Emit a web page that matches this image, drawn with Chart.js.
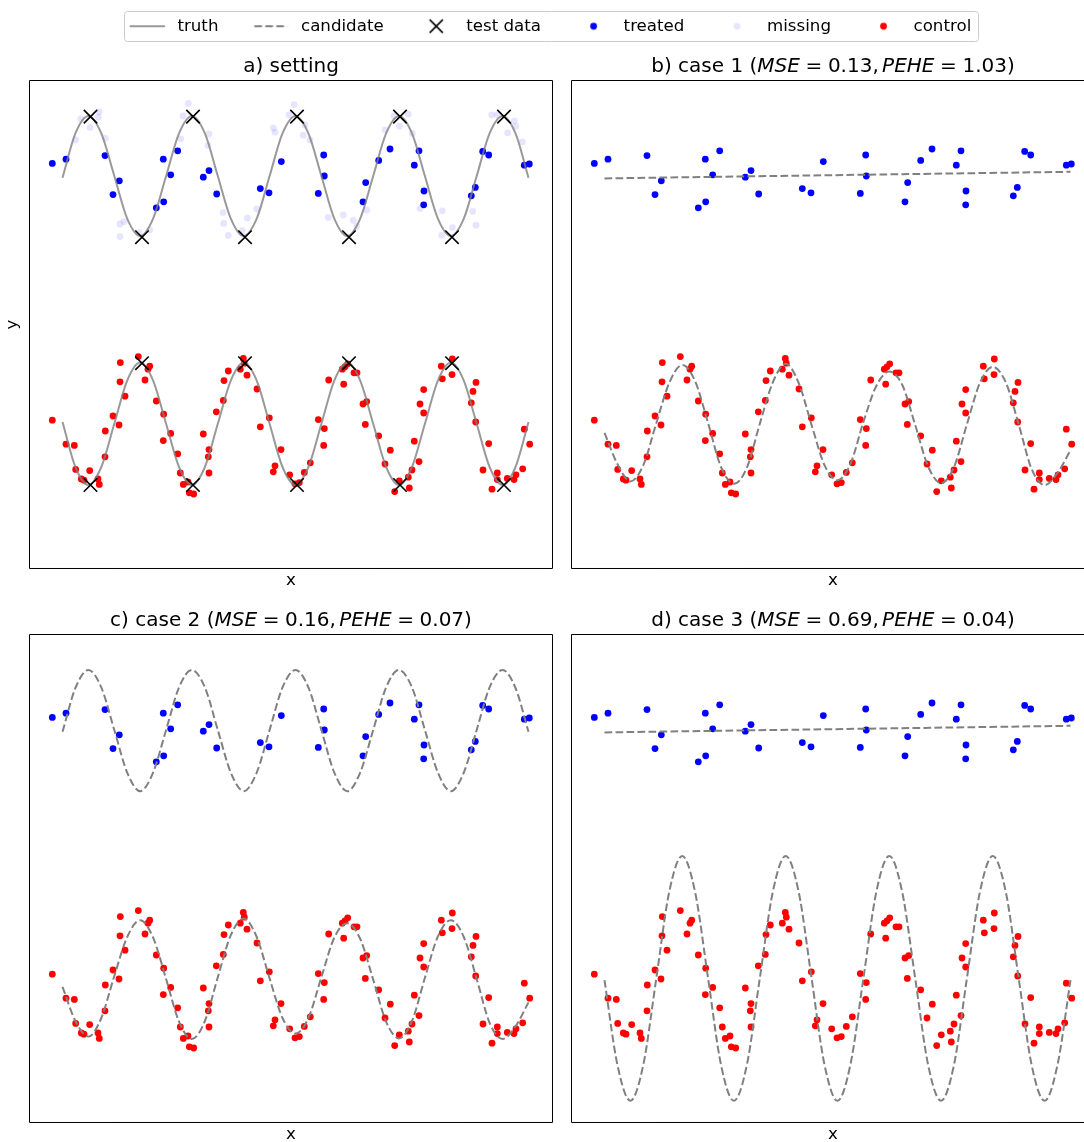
<!DOCTYPE html>
<html><head><meta charset="utf-8">
<script src="https://cdn.jsdelivr.net/npm/chart.js@4.4.0/dist/chart.umd.min.js"></script>
<style>
html,body{margin:0;padding:0;background:#fff;overflow:hidden;}
#page{position:relative;width:1084px;height:1142px;overflow:hidden;background:#fff;}
.box{position:absolute;}
canvas{display:block;}
</style></head><body>
<div id="page">
<div class="box" style="left:0px;top:40px;width:560px;height:560px;"><canvas id="pa" width="560" height="560"></canvas></div>
<div class="box" style="left:542px;top:40px;width:542px;height:560px;overflow:hidden;"><canvas id="pb" width="600" height="560"></canvas></div>
<div class="box" style="left:0px;top:594px;width:560px;height:560px;"><canvas id="pc" width="560" height="560"></canvas></div>
<div class="box" style="left:542px;top:594px;width:542px;height:560px;overflow:hidden;"><canvas id="pd" width="600" height="560"></canvas></div>
<div class="box" style="left:18px;top:-18px;width:1066px;height:200px;pointer-events:none;"><canvas id="legend" width="1066" height="200"></canvas></div>
</div>
<script>
// ---------------- data ----------------
const legendLabels = ['truth', 'candidate', 'test data', 'treated', 'missing', 'control'];
const panelNames = ['a) setting', 'b) case 1', 'c) case 2', 'd) case 3'];
const caseMSE = ['0.13', '0.16', '0.69'];
const casePEHE = ['1.03', '0.07', '0.04'];

const treatedX = [-1.17, 0.20, 4.10, 5.53, 4.90, 9.93, 11.37, 10.67, 9.23, 9.97, 14.50, 13.93, 15.27, 19.63, 20.50, 21.73, 25.97, 26.03, 25.43, 30.17, 29.90, 31.47, 32.60, 35.50, 35.03, 36.00, 35.97, 41.13, 40.73, 41.87, 42.47, 46.03, 46.53];
const treatedY = [2.21, 2.28, 2.34, 1.92, 1.69, 2.28, 2.42, 2.02, 1.47, 1.57, 2.09, 1.98, 1.70, 1.79, 1.72, 2.24, 2.35, 2.00, 1.71, 1.89, 1.57, 2.26, 2.45, 2.42, 2.18, 1.75, 1.52, 1.81, 1.67, 2.41, 2.35, 2.18, 2.20];

const missingX = [1.67, 3.53, 3.43, 2.60, 1.17, 4.13, 5.60, 6.00, 5.60, 7.50, 8.57, 12.43, 11.90, 11.67, 14.50, 14.40, 15.90, 15.97, 16.43, 17.83, 18.33, 19.27, 20.93, 21.10, 22.50, 23.00, 23.93, 24.60, 24.10, 26.43, 27.93, 28.93, 29.27, 30.27, 32.10, 33.00, 33.53, 34.43, 34.83, 35.60, 37.83, 38.83, 37.77, 40.87, 41.20, 42.77, 43.33, 44.37, 45.03, 45.20, 45.83];
const missingY = [2.95, 3.07, 2.98, 2.81, 2.60, 2.63, 1.20, 1.24, 0.99, 1.06, 1.10, 3.21, 3.00, 2.62, 2.70, 2.51, 1.39, 1.21, 1.01, 1.09, 1.30, 1.45, 2.80, 2.73, 3.02, 3.19, 2.68, 2.60, 2.85, 1.31, 1.35, 1.26, 1.16, 1.43, 2.77, 3.00, 2.83, 3.03, 2.71, 1.46, 1.42, 1.14, 1.01, 1.41, 1.18, 3.02, 3.02, 2.72, 2.92, 2.83, 2.57];

const controlX = [-1.17, 0.20, 1.03, 1.17, 1.73, 2.00, 2.57, 3.40, 3.53, 4.10, 4.13, 4.90, 5.50, 6.10, 5.60, 5.63, 7.43, 8.57, 8.40, 8.10, 9.23, 9.97, 10.67, 9.93, 11.37, 11.63, 11.93, 12.40, 12.53, 12.97, 13.93, 14.50, 14.43, 14.50,
  15.23, 15.93, 16.00, 16.43, 17.63, 17.93, 18.03, 18.30, 19.30, 20.53, 19.63, 21.70, 21.10, 20.93, 22.57, 23.10, 23.53, 24.03, 24.63, 25.97, 26.03, 25.43, 26.47, 27.97, 27.83, 28.10, 28.37, 29.00, 29.30, 29.90, 30.27, 30.13, 31.47, 32.10,
  32.63, 33.07, 33.53, 34.43, 34.53, 34.80, 35.50, 35.03, 35.97, 35.60, 35.97, 37.73, 37.83, 38.83, 38.80, 41.20, 40.90, 40.73, 41.17, 42.47, 41.90, 42.80, 43.33, 43.33, 44.33, 45.00, 45.20, 45.87, 46.03, 46.57];
const controlY = [-2.07, -2.47, -2.49, -2.89, -3.05, -3.07, -2.91, -3.05, -3.14, -2.68, -2.25, -2.00, -2.15, -1.67, -1.43, -1.11, -1.01, -1.17, -1.22, -1.40, -1.75, -1.97, -2.29, -2.41, -2.63, -2.95, -3.14, -3.10, -3.28, -3.30, -2.30, -2.56, -2.68, -2.95,
  -1.93, -1.74, -1.41, -1.25, -1.22, -1.04, -1.12, -1.32, -1.55, -2.03, -2.18, -2.56, -2.83, -2.93, -2.98, -3.13, -3.11, -2.94, -2.78, -2.49, -2.21, -2.06, -1.40, -1.47, -1.22, -1.18, -1.13, -1.28, -1.28, -1.80, -1.76, -2.14, -2.33, -2.80,
  -2.57, -3.26, -3.08, -3.02, -3.20, -2.90, -2.76, -2.42, -1.95, -1.80, -1.56, -1.17, -1.38, -1.05, -1.31, -1.44, -1.59, -1.78, -2.10, -2.46, -2.90, -3.22, -2.95, -3.06, -3.04, -3.06, -2.98, -2.88, -2.22, -2.47];

const testX = [2.65, 12.9, 23.3, 33.6, 44.0, 7.8, 18.1, 28.5, 38.8, 7.8, 18.1, 28.5, 38.8, 2.65, 12.9, 23.3, 33.6, 44.0];
const testY = [2.99, 2.99, 2.99, 2.99, 2.99, 0.98, 0.98, 0.98, 0.98, -1.12, -1.12, -1.12, -1.12, -3.15, -3.15, -3.15, -3.15, -3.15];

const curveX = [-0.15, 1.14, 2.44, 3.73, 5.03, 6.32, 7.62, 8.91, 10.21, 11.50, 12.79, 14.09, 15.38, 16.68, 17.97, 19.27, 20.56, 21.85, 23.15, 24.44, 25.74, 27.03, 28.33, 29.62, 30.92, 32.21, 33.50, 34.80, 36.09, 37.39, 38.68, 39.98, 41.27, 42.56, 43.86, 45.15, 46.45];
const truthTreated = [1.97, 2.71, 3.00, 2.71, 2.00, 1.29, 1.00, 1.29, 2.00, 2.71, 3.00, 2.71, 2.00, 1.29, 1.00, 1.29, 2.00, 2.71, 3.00, 2.71, 2.00, 1.29, 1.00, 1.29, 2.00, 2.71, 3.00, 2.71, 2.00, 1.29, 1.00, 1.29, 2.00, 2.71, 3.00, 2.71, 1.97];
const truthControl = [-2.10, -2.85, -3.15, -2.85, -2.13, -1.41, -1.11, -1.41, -2.13, -2.85, -3.15, -2.85, -2.13, -1.41, -1.11, -1.41, -2.13, -2.85, -3.15, -2.85, -2.13, -1.41, -1.11, -1.41, -2.13, -2.85, -3.15, -2.85, -2.13, -1.41, -1.11, -1.41, -2.13, -2.85, -3.15, -2.85, -2.10];

const flatX = [-0.15, 46.45];
const case1CandTreated = [1.96, 2.07];
const case1CandControl = [-2.28, -2.80, -3.09, -2.82, -2.12, -1.45, -1.15, -1.42, -2.12, -2.85, -3.13, -2.86, -2.13, -1.44, -1.13, -1.45, -2.15, -2.82, -3.07, -2.80, -2.10, -1.50, -1.26, -1.48, -2.15, -2.84, -3.12, -2.85, -2.14, -1.45, -1.18, -1.44, -2.14, -2.88, -3.15, -2.95, -2.57];
const case2CandTreated = [1.97, 2.70, 3.00, 2.71, 2.00, 1.29, 0.98, 1.29, 2.00, 2.71, 3.00, 2.71, 2.00, 1.29, 0.98, 1.29, 2.00, 2.71, 3.00, 2.71, 2.00, 1.29, 0.98, 1.29, 2.00, 2.71, 3.00, 2.71, 2.00, 1.29, 0.98, 1.29, 2.00, 2.71, 3.00, 2.70, 1.97];
const case2CandControl = [-2.28, -2.85, -3.11, -2.80, -2.10, -1.45, -1.17, -1.46, -2.15, -2.86, -3.15, -2.85, -2.12, -1.42, -1.14, -1.45, -2.14, -2.80, -3.06, -2.80, -2.12, -1.46, -1.22, -1.48, -2.16, -2.86, -3.14, -2.85, -2.13, -1.44, -1.17, -1.45, -2.15, -2.88, -3.15, -2.94, -2.54];
const case3CandTreated = [1.96, 2.07];
const case3CandControl = [-2.17, -3.58, -4.18, -3.58, -2.14, -0.70, -0.10, -0.70, -2.14, -3.58, -4.18, -3.58, -2.14, -0.70, -0.10, -0.70, -2.14, -3.58, -4.18, -3.58, -2.14, -0.70, -0.10, -0.70, -2.14, -3.58, -4.18, -3.58, -2.14, -0.70, -0.10, -0.70, -2.14, -3.58, -4.18, -3.58, -2.17];

const xLimits = [-3.5, 48.9];
const yLimits = [-4.55, 3.6];

// ---------------- styles ----------------
const FAMILY = "'DejaVu Sans', 'Liberation Sans', sans-serif";
const FS = 16.67;
const TRUTH_COLOR = 'rgba(128,128,128,0.8)';
const CAND_COLOR = 'rgb(128,128,128)';
const DASH = [7.7, 3.3];
const BLUE = '#0000ff', RED = '#ff0000', MISSING = 'rgba(0,0,255,0.1)';
const DOT_R = 3.4;

Chart.defaults.font.family = FAMILY;
Chart.defaults.color = '#000';

function pts(xs, ys) { return xs.map((x, i) => ({x: x, y: ys[i]})); }

const framePlugin = {
  id: 'frame',
  afterDatasetsDraw(chart, args, opts) {
    const {ctx, chartArea: a} = chart;
    const l = a.left + 0.5, t = a.top + 0.5, r = a.right - 0.5, b = a.bottom - 0.5;
    ctx.save();
    ctx.strokeStyle = '#000';
    ctx.lineWidth = 1;
    ctx.beginPath();
    ctx.moveTo(r, t); ctx.lineTo(l, t); ctx.lineTo(l, b); ctx.lineTo(r, b);
    if (!opts.openRight) ctx.closePath();
    ctx.stroke();
    ctx.restore();
  }
};

const titlePlugin = {
  id: 'panelTitle',
  afterDraw(chart, args, opts) {
    const segs = opts.segments || [];
    const ctx = chart.ctx, a = chart.chartArea;
    const fN = "20px " + FAMILY, fI = "italic 20px " + FAMILY;
    ctx.save();
    let total = 0;
    segs.forEach(s => {
      if (s.g) { total += s.g; return; }
      ctx.font = s.i ? fI : fN;
      total += ctx.measureText(s.t).width;
    });
    let x = (a.left + a.right) / 2 - total / 2;
    const y = a.top - 8.3;
    ctx.fillStyle = '#000';
    ctx.textAlign = 'left';
    ctx.textBaseline = 'alphabetic';
    segs.forEach(s => {
      if (s.g) { x += s.g; return; }
      ctx.font = s.i ? fI : fN;
      ctx.fillText(s.t, x, y);
      x += ctx.measureText(s.t).width;
    });
    ctx.restore();
  }
};

function caseSegments(k) {
  return [
    {t: panelNames[k + 1] + ' ('}, {t: 'MSE', i: true}, {g: 5.6}, {t: '='}, {g: 5.6},
    {t: caseMSE[k] + ','}, {g: 3.3}, {t: 'PEHE', i: true}, {g: 5.6}, {t: '='}, {g: 5.6},
    {t: casePEHE[k] + ')'}
  ];
}

function scatterSet(label, xs, ys, color, order) {
  return {label, data: pts(xs, ys), backgroundColor: color, borderColor: color, pointRadius: DOT_R, pointBorderWidth: 0, pointHoverRadius: DOT_R, order};
}
function lineSet(label, xs, ys, color, dashed, order) {
  return {type: 'line', label, data: pts(xs, ys), borderColor: color, borderWidth: 2, borderDash: dashed ? DASH : [],
    pointRadius: 0, pointHoverRadius: 0, fill: false, cubicInterpolationMode: 'monotone', order};
}

function panel(id, segments, datasets, showY, padRight, openRight) {
  return new Chart(document.getElementById(id), {
    type: 'scatter',
    data: {datasets},
    options: {
      responsive: false, animation: false, events: [],
      layout: {padding: {left: showY ? 3 : 29, right: padRight, top: 40, bottom: 9}, autoPadding: false},
      scales: {
        x: {type: 'linear', min: xLimits[0], max: xLimits[1], display: true,
            grid: {display: false, drawTicks: false}, border: {display: false}, ticks: {display: false},
            title: {display: true, text: 'x', color: '#000', font: {size: FS, family: FAMILY}, padding: {top: 2, bottom: 0}}},
        y: {type: 'linear', min: yLimits[0], max: yLimits[1], display: showY,
            grid: {display: false, drawTicks: false}, border: {display: false}, ticks: {display: false},
            title: {display: showY, text: 'y', color: '#000', font: {size: FS, family: FAMILY}, padding: {top: 0, bottom: 6}}}
      },
      plugins: {legend: {display: false}, tooltip: {enabled: false}, panelTitle: {segments}, frame: {openRight}}
    },
    plugins: [framePlugin, titlePlugin]
  });
}

// panel a
panel('pa', [{t: panelNames[0]}], [
  {label: 'test data', data: pts(testX, testY), pointStyle: 'crossRot', pointRadius: 9.5, pointHoverRadius: 9.5,
   pointBorderWidth: 1.6, borderColor: '#000', backgroundColor: '#000', order: 0},
  lineSet('truth treated', curveX, truthTreated, TRUTH_COLOR, false, 2),
  lineSet('truth control', curveX, truthControl, TRUTH_COLOR, false, 2),
  scatterSet('control', controlX, controlY, RED, 3),
  scatterSet('missing', missingX, missingY, MISSING, 4),
  scatterSet('treated', treatedX, treatedY, BLUE, 5)
], true, 7, false);

function casePanel(id, k, candTX, candT, candC, padRight, openRight) {
  panel(id, caseSegments(k), [
    lineSet('candidate treated', candTX, candT, CAND_COLOR, true, 1),
    lineSet('candidate control', curveX, candC, CAND_COLOR, true, 1),
    scatterSet('control', controlX, controlY, RED, 3),
    scatterSet('treated', treatedX, treatedY, BLUE, 5)
  ], false, padRight, openRight);
}
casePanel('pb', 0, flatX, case1CandTreated, case1CandControl, 47, true);
casePanel('pc', 1, curveX, case2CandTreated, case2CandControl, 7, false);
casePanel('pd', 2, flatX, case3CandTreated, case3CandControl, 47, true);

// legend icons (handle box 33.3px wide, matplotlib-like)
function icon(draw) {
  const c = document.createElement('canvas');
  c.width = 42; c.height = 20;
  const g = c.getContext('2d');
  draw(g, 1.83, 18.5, 10);
  return c;
}
const icons = [
  icon((g, o, cx, cy) => { g.strokeStyle = TRUTH_COLOR; g.lineWidth = 2; g.lineCap = 'square'; g.beginPath(); g.moveTo(o, cy); g.lineTo(o + 33.3, cy); g.stroke(); }),
  icon((g, o, cx, cy) => { g.strokeStyle = CAND_COLOR; g.lineWidth = 2; g.setLineDash(DASH); g.beginPath(); g.moveTo(o, cy); g.lineTo(o + 33.3, cy); g.stroke(); }),
  icon((g, o, cx, cy) => { g.strokeStyle = '#000'; g.lineWidth = 1.6; g.beginPath(); g.moveTo(cx - 6.6, cy - 6.6); g.lineTo(cx + 6.6, cy + 6.6); g.moveTo(cx - 6.6, cy + 6.6); g.lineTo(cx + 6.6, cy - 6.6); g.stroke(); }),
  icon((g, o, cx, cy) => { g.fillStyle = BLUE; g.beginPath(); g.arc(cx, cy, DOT_R, 0, Math.PI * 2); g.fill(); }),
  icon((g, o, cx, cy) => { g.fillStyle = MISSING; g.beginPath(); g.arc(cx, cy, DOT_R, 0, Math.PI * 2); g.fill(); }),
  icon((g, o, cx, cy) => { g.fillStyle = RED; g.beginPath(); g.arc(cx, cy, DOT_R, 0, Math.PI * 2); g.fill(); })
];

const legendFrame = {
  id: 'legendFrame',
  beforeDraw(chart) {
    const lg = chart.legend;
    if (!lg || !lg.legendHitBoxes || !lg.legendHitBoxes.length) return;
    const hb = lg.legendHitBoxes;
    const first = hb[0], last = hb[hb.length - 1];
    const left = Math.round(first.left - 6.67) + 0.5;
    const right = Math.round(last.left + last.width + 6.67) + 0.5;
    const cy = first.top + FS / 2;
    const top = Math.round(cy - 15) + 0.5, bottom = Math.round(cy + 15) + 0.5;
    const r = 3;
    const ctx = chart.ctx;
    ctx.save();
    ctx.beginPath();
    ctx.moveTo(left + r, top);
    ctx.lineTo(right - r, top); ctx.arcTo(right, top, right, top + r, r);
    ctx.lineTo(right, bottom - r); ctx.arcTo(right, bottom, right - r, bottom, r);
    ctx.lineTo(left + r, bottom); ctx.arcTo(left, bottom, left, bottom - r, r);
    ctx.lineTo(left, top + r); ctx.arcTo(left, top, left + r, top, r);
    ctx.closePath();
    ctx.fillStyle = 'rgba(255,255,255,0.8)';
    ctx.fill();
    ctx.strokeStyle = '#cccccc';
    ctx.lineWidth = 1;
    ctx.stroke();
    ctx.restore();
  }
};

new Chart(document.getElementById('legend'), {
  type: 'scatter',
  data: {datasets: legendLabels.map(l => ({label: l, data: []}))},
  options: {
    responsive: false, animation: false, events: [],
    layout: {padding: 0},
    scales: {x: {display: false}, y: {display: false}},
    plugins: {
      tooltip: {enabled: false},
      legend: {
        display: true, position: 'top', align: 'center',
        labels: {
          usePointStyle: true, pointStyleWidth: 38.33, padding: 35.9, color: '#000',
          font: {size: FS, family: FAMILY},
          generateLabels: () => legendLabels.map((t, i) => ({
            text: t, pointStyle: icons[i], fillStyle: '#000', strokeStyle: 'rgba(0,0,0,0)',
            lineWidth: 0, hidden: false, datasetIndex: i, fontColor: '#000'
          }))
        }
      }
    }
  },
  plugins: [legendFrame]
});
</script>
</body></html>
